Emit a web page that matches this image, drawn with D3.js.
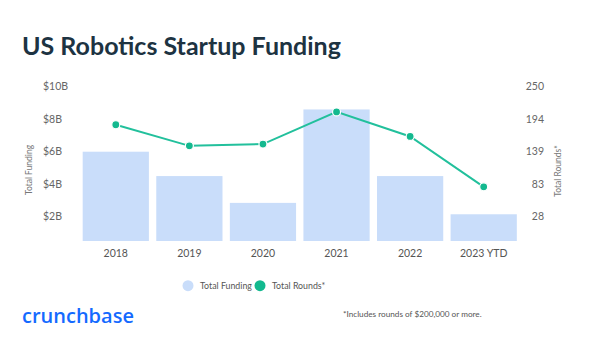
<!DOCTYPE html>
<html>
<head>
<meta charset="utf-8">
<script src="https://cdn.jsdelivr.net/npm/d3@7"></script>
<style>
  body { margin: 0; background: #fff; }
  svg { display: block; font-family: Lato, "Open Sans", sans-serif; }
</style>
</head>
<body>
<div id="chart"></div>
<script>
// data
const years = ["2018", "2019", "2020", "2021", "2022", "2023 YTD"];
const funding = [6.0, 4.5, 2.85, 8.6, 4.5, 2.15];      // $B
const rounds = [185, 149, 152, 207, 165, 79];
const fundTicks = [2, 4, 6, 8, 10];
const roundTicks = [28, 83, 139, 194, 250];

let width = 600,
    height = 351,
    barBottom = 241;

const svg = d3.select("#chart")
    .append("svg")
    .attr("width", width)
    .attr("height", height);

const x = d3.scaleBand().domain(years).range([79, 520.5]).paddingInner(0.1).paddingOuter(0.05);
const yL = d3.scaleLinear().domain([0, 10]).range([249.2, 86.7]);
const yR = d3.scaleLinear().domain([250 - 5 * 55.5, 250]).range([249.2, 86.7]);

// title
svg.append("text")
    .attr("x", 22).attr("y", 55)
    .style("font", "bold 25px Lato, sans-serif")
    .style("fill", "#1d3342")
    .text("US Robotics Startup Funding");

// bars
svg.selectAll(".bar")
    .data(years)
  .enter().append("rect")
    .attr("class", "bar")
    .attr("x", d => x(d))
    .attr("width", x.bandwidth())
    .attr("y", (d, i) => yL(funding[i]))
    .attr("height", (d, i) => barBottom - yL(funding[i]))
    .style("fill", "#c9ddfa");

// left axis labels
svg.append("g")
    .selectAll("text")
    .data(fundTicks)
  .enter().append("text")
    .attr("x", 43)
    .attr("y", d => yL(d))
    .attr("dy", "0.35em")
    .style("font-size", "10.5px")
    .style("fill", "#666")
    .text(d => "$" + d + "B");

// right axis labels
svg.append("g")
    .selectAll("text")
    .data(roundTicks)
  .enter().append("text")
    .attr("x", 544)
    .attr("y", d => yR(d))
    .attr("dy", "0.35em")
    .style("font-size", "10.5px")
    .style("text-anchor", "end")
    .style("fill", "#666")
    .text(d => d);

// x labels
svg.append("g")
    .selectAll("text")
    .data(years)
  .enter().append("text")
    .attr("x", d => x(d) + x.bandwidth() / 2)
    .attr("y", 253)
    .attr("dy", "0.35em")
    .style("font-size", "10.5px")
    .style("text-anchor", "middle")
    .style("fill", "#555")
    .text(d => d);

// axis titles
svg.append("text")
    .attr("transform", "translate(32,170) rotate(-90)")
    .style("font-size", "8.5px")
    .style("text-anchor", "middle")
    .style("fill", "#777")
    .text("Total Funding");

svg.append("text")
    .attr("transform", "translate(561,171) rotate(-90)")
    .style("font-size", "8.5px")
    .style("text-anchor", "middle")
    .style("fill", "#777")
    .text("Total Rounds*");

// line
const line = d3.line()
    .x((d, i) => x(years[i]) + x.bandwidth() / 2)
    .y(d => yR(d));

svg.append("path")
    .datum(rounds)
    .attr("d", line)
    .style("fill", "none")
    .style("stroke", "#22c09c")
    .style("stroke-width", 2);

svg.selectAll(".dot")
    .data(rounds)
  .enter().append("circle")
    .attr("class", "dot")
    .attr("cx", (d, i) => x(years[i]) + x.bandwidth() / 2)
    .attr("cy", d => yR(d))
    .attr("r", 4)
    .style("fill", "#13b98f")
    .style("stroke", "#fff")
    .style("stroke-width", 1.2);

// legend
const legend = [
  {label: "Total Funding", color: "#c9ddfa", x: 188},
  {label: "Total Rounds*", color: "#13b98f", x: 260}
];
const lg = svg.selectAll(".legend")
    .data(legend)
  .enter().append("g")
    .attr("class", "legend");
lg.append("circle")
    .attr("cx", d => d.x).attr("cy", 285.7).attr("r", 5.5)
    .style("fill", d => d.color);
lg.append("text")
    .attr("x", d => d.x + 12).attr("y", 285.7).attr("dy", "0.35em")
    .style("font-size", "8.8px")
    .style("fill", "#555")
    .text(d => d.label);

// logo + footnote
svg.append("text")
    .attr("x", 22).attr("y", 323)
    .style("font", "600 20px 'Open Sans', sans-serif")
    .style("fill", "#146aff")
    .text("crunchbase");

svg.append("text")
    .attr("x", 343).attr("y", 314.5).attr("dy", "0.35em")
    .style("font-size", "8.2px")
    .style("fill", "#555")
    .text("*Includes rounds of $200,000 or more.");
</script>
</body>
</html>
